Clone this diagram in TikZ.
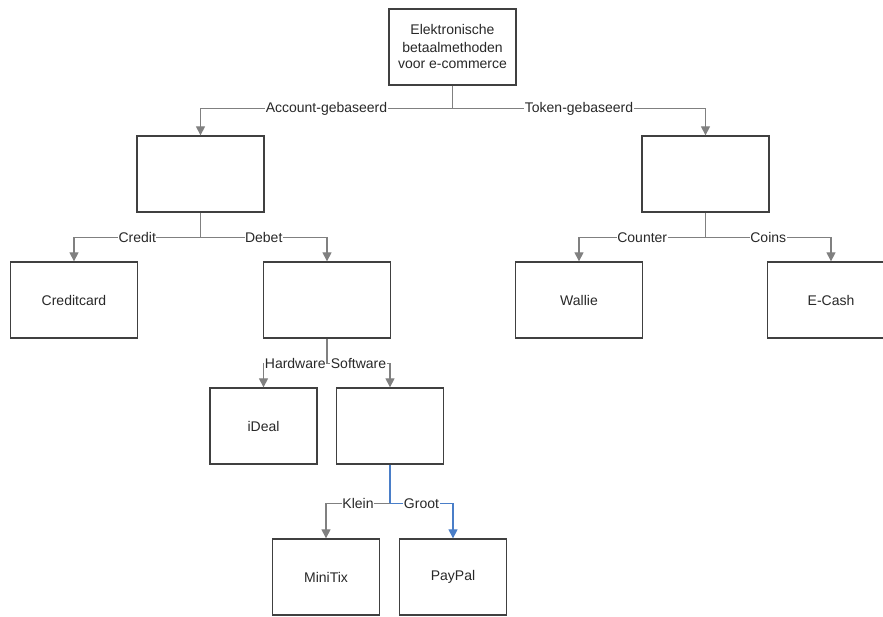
\documentclass[tikz,border=0pt]{standalone}
\usepackage{fontspec}
\setmainfont{Liberation Sans}
\usetikzlibrary{arrows.meta}
\definecolor{boxc}{RGB}{64,64,64}
\definecolor{linec}{RGB}{128,128,128}
\definecolor{bluec}{RGB}{74,126,200}
\definecolor{txtc}{RGB}{40,40,40}
\begin{document}
\begin{tikzpicture}[x=1pt,y=-1pt,
  box/.style={draw=boxc, line width=1.3pt, fill=white, minimum width=127pt,
    minimum height=76pt, inner sep=0pt, text=txtc,
    font=\fontsize{14}{17}\selectfont, align=center},
  sbox/.style={box, minimum width=107pt},
  conn/.style={draw=linec, line width=1.2pt},
  arr/.style={conn, -{Triangle[length=9pt,width=9pt]}},
  bconn/.style={draw=bluec, line width=1.2pt},
  barr/.style={bconn, -{Triangle[length=9pt,width=9pt]}},
  lbl/.style={fill=white, inner sep=0.5pt, text=txtc,
    font=\fontsize{14}{16}\selectfont}]
\useasboundingbox (0,0) rectangle (883,617);
\node[box] (top) at (452.5,47) {Elektronische\\betaalmethoden\\voor e-commerce};
\node[box] (acc) at (200.5,174) {};
\node[box] (tok) at (705.5,174) {};
\node[box] (cc) at (74,300) {Creditcard};
\node[box] (deb) at (327,300) {};
\node[box] (wal) at (579,300) {Wallie};
\node[box] (ecash) at (831,300) {E-Cash};
\node[sbox] (ideal) at (263.5,426) {iDeal};
\node[sbox] (soft) at (390,426) {};
\node[sbox] (mini) at (326,577) {MiniTix};
\node[sbox] (paypal) at (453,577) {PayPal};

\path (top.south) ++(0,23) coordinate (j1);
\path (acc.south) ++(0,25) coordinate (j2);
\path (tok.south) ++(0,25) coordinate (j3);
\path (deb.south) ++(0,25) coordinate (j4);
\path (soft.south) ++(0,39) coordinate (j5);

\draw[conn] (top.south) -- (j1);
\draw[arr] (j1) -| node[lbl,pos=0.25] {Account-gebaseerd} (acc.north);
\draw[arr] (j1) -| node[lbl,pos=0.25] {Token-gebaseerd} (tok.north);

\draw[conn] (acc.south) -- (j2);
\draw[arr] (j2) -| node[lbl,pos=0.25] {Credit} (cc.north);
\draw[arr] (j2) -| node[lbl,pos=0.25] {Debet} (deb.north);

\draw[conn] (tok.south) -- (j3);
\draw[arr] (j3) -| node[lbl,pos=0.25] {Counter} (wal.north);
\draw[arr] (j3) -| node[lbl,pos=0.25] {Coins} (ecash.north);

\draw[conn] (deb.south) -- (j4);
\draw[arr] (j4) -| node[lbl,pos=0.25] {Hardware} (ideal.north);
\draw[arr] (j4) -| node[lbl,pos=0.25] {Software} (soft.north);

\draw[bconn] (soft.south) -- (j5);
\draw[arr] (j5) -| node[lbl,pos=0.25] {Klein} (mini.north);
\draw[barr] (j5) -| node[lbl,pos=0.25] {Groot} (paypal.north);
\end{tikzpicture}
\end{document}
